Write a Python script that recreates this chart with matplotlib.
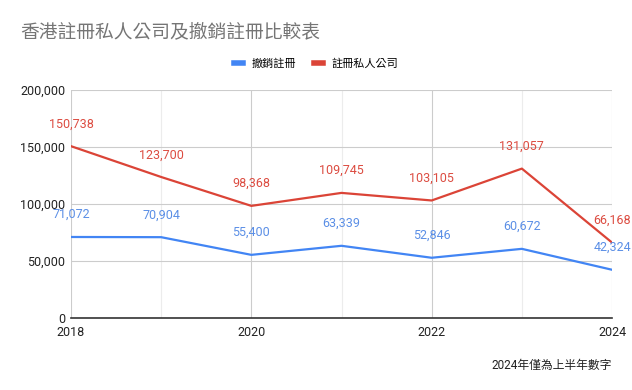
import numpy as np
import matplotlib.pyplot as plt
from matplotlib.ticker import FuncFormatter, MultipleLocator

plt.rcParams['font.family'] = ['Roboto', 'Noto Sans CJK TC', 'DejaVu Sans']

years = [2018, 2019, 2020, 2021, 2022, 2023, 2024]
dereg = [71072, 70904, 55400, 63339, 52846, 60672, 42324]      # 撤銷註冊
newco = [150738, 123700, 98368, 109745, 103105, 131057, 66168]  # 註冊私人公司

blue = '#4285f4'
red = '#db4437'

fig = plt.figure(figsize=(6.32, 3.9), dpi=100)
ax = fig.add_axes([0.1123, 0.1846, 0.8561, 0.5846])

l1, = ax.plot(years, dereg, color=blue, lw=1.6, label='撤銷註冊', zorder=3)
l2, = ax.plot(years, newco, color=red, lw=1.6, label='註冊私人公司', zorder=3)

for x, y in zip(years, dereg):
    ax.annotate(f'{y:,}', (x, y), xytext=(0, 16), textcoords='offset points',
                ha='center', va='center', fontsize=9, color='#5b8fe6', annotation_clip=False)
for x, y in zip(years, newco):
    ax.annotate(f'{y:,}', (x, y), xytext=(0, 16), textcoords='offset points',
                ha='center', va='center', fontsize=9, color='#dc4c41', annotation_clip=False)

ax.set_xlim(2018, 2024)
ax.set_ylim(0, 200000)
ax.xaxis.set_major_locator(MultipleLocator(2))
ax.xaxis.set_minor_locator(MultipleLocator(1))
ax.yaxis.set_major_locator(MultipleLocator(50000))
ax.yaxis.set_major_formatter(FuncFormatter(lambda v, p: f'{int(v):,}'))

ax.grid(True, which='major', color='#cccccc', lw=0.8)
ax.grid(True, which='minor', axis='x', color='#ececec', lw=0.8)
ax.set_axisbelow(True)
for s in ['top', 'right', 'left']:
    ax.spines[s].set_visible(False)
ax.spines['bottom'].set_color('#333333')
ax.spines['bottom'].set_linewidth(1.2)
ax.tick_params(which='both', length=0, labelsize=9, colors='#222222')
ax.tick_params(axis='x', pad=6)
ax.tick_params(axis='y', pad=4)

fig.text(0.032, 0.918, '香港註冊私人公司及撤銷註冊比較表', fontsize=13.5,
         color='#757575', ha='left', va='center')
fig.legend(handles=[l1, l2], loc='center', bbox_to_anchor=(0.5, 0.838), ncol=2,
           frameon=False, fontsize=8, handlelength=0.8, handletextpad=0.8,
           columnspacing=1.6)
for h in fig.legends[0].legend_handles:
    h.set_linewidth(4)
fig.text(0.968, 0.062, '2024年僅為上半年數字', fontsize=8.5, color='#222222',
         ha='right', va='center')

fig.savefig('out.png', dpi=100)
